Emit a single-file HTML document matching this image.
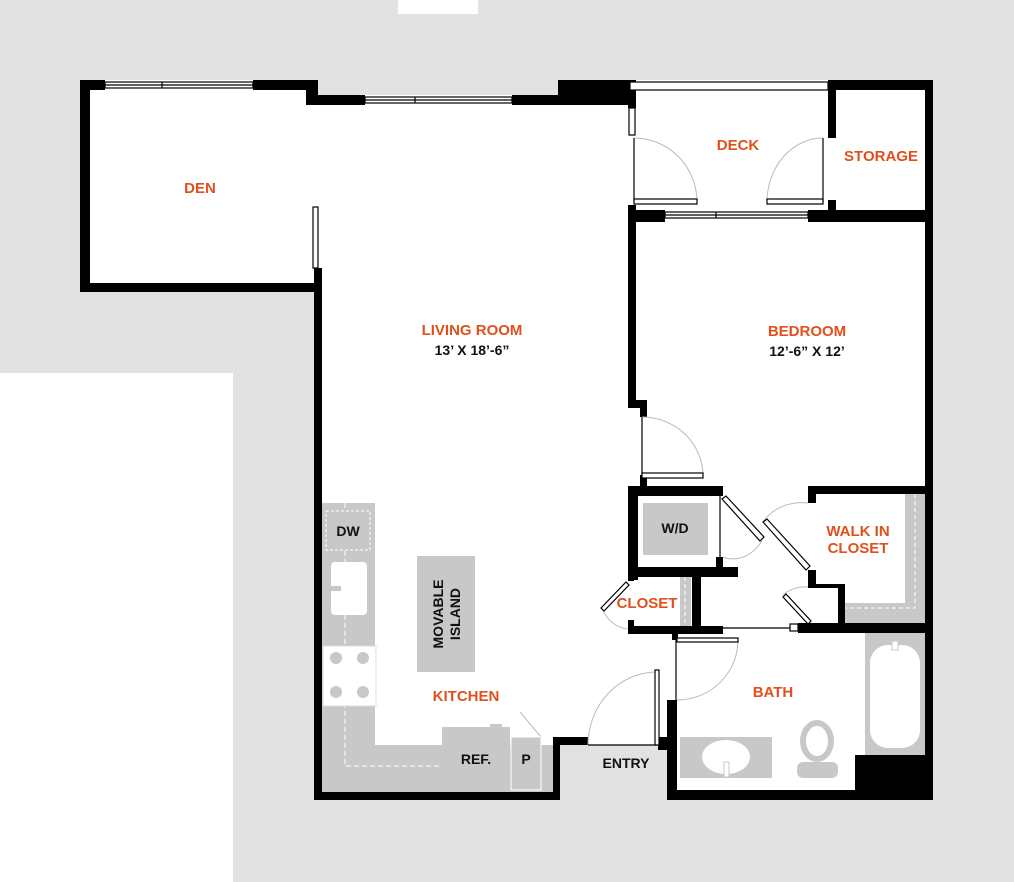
<!DOCTYPE html>
<html><head><style>
html,body{margin:0;padding:0;background:#e2e2e2;}
svg{display:block}
text{font-family:"Liberation Sans",sans-serif;font-weight:bold;text-anchor:middle}
.o{fill:#e0501c;font-size:15px}
.b{fill:#111;font-size:14px}
</style></head><body>
<svg width="1014" height="882" viewBox="0 0 1014 882" xmlns="http://www.w3.org/2000/svg">
<rect width="1014" height="882" fill="#e2e2e2"/>
<rect x="398" y="0" width="80" height="14" fill="#fff"/>
<rect x="0" y="373" width="233" height="509" fill="#fff"/>
<polygon fill="#fff" points="80,80 318,80 318,95 558,95 558,80 933,80 933,800 667,800 667,745 560,745 560,800 314,800 314,292 80,292"/>
<g fill="#000">
<rect x="80" y="80" width="10" height="212"/>
<rect x="80" y="283" width="242" height="9"/>
<rect x="314" y="268" width="8" height="532"/>
<rect x="80" y="80" width="25" height="10"/>
<rect x="253" y="80" width="65" height="10"/>
<rect x="306" y="80" width="12" height="25"/>
<rect x="306" y="95" width="59" height="10"/>
<rect x="512" y="95" width="118" height="10"/>
<rect x="558" y="80" width="78" height="25"/>
<rect x="628" y="80" width="8" height="28"/>
<rect x="828" y="80" width="8" height="58"/>
<rect x="828" y="80" width="105" height="10"/>
<rect x="925" y="80" width="8" height="720"/>
<rect x="628" y="205" width="8" height="203"/>
<rect x="628" y="210" width="37" height="12"/>
<rect x="808" y="210" width="125" height="12"/>
<rect x="828" y="200" width="8" height="15"/>
<rect x="628" y="400" width="19" height="8"/>
<rect x="640" y="400" width="7" height="17"/>
<rect x="640" y="475" width="7" height="15"/>
<rect x="628" y="486" width="95" height="10"/>
<rect x="628" y="486" width="10" height="94"/>
<rect x="716" y="557" width="7" height="12"/>
<rect x="628" y="567" width="110" height="10"/>
<rect x="628" y="567" width="6" height="14"/>
<rect x="628" y="620" width="6" height="14"/>
<rect x="628" y="626" width="95" height="8"/>
<rect x="692" y="567" width="9" height="67"/>
<rect x="672" y="630" width="6" height="10"/>
<rect x="808" y="486" width="8" height="17"/>
<rect x="808" y="486" width="125" height="8"/>
<rect x="808" y="570" width="8" height="17"/>
<rect x="808" y="584" width="36" height="4"/>
<rect x="838" y="584" width="7" height="44"/>
<rect x="798" y="623" width="135" height="10"/>
<rect x="667" y="700" width="10" height="100"/>
<rect x="658" y="737" width="19" height="13"/>
<rect x="667" y="790" width="266" height="10"/>
<rect x="855" y="755" width="78" height="45"/>
<rect x="553" y="737" width="35" height="8"/>
<rect x="553" y="737" width="7" height="63"/>
<rect x="314" y="792" width="246" height="8"/>
</g>
<g fill="#fff" stroke="#000" stroke-width="1.2">
<rect x="105" y="82" width="148" height="6"/><line x1="105" y1="85" x2="253" y2="85"/><line x1="162" y1="82" x2="162" y2="88"/>
<rect x="365" y="97" width="147" height="6"/><line x1="365" y1="100" x2="512" y2="100"/><line x1="415" y1="97" x2="415" y2="103"/>
<rect x="665" y="212" width="143" height="6"/><line x1="665" y1="215" x2="808" y2="215"/><line x1="716" y1="212" x2="716" y2="218"/>
<rect x="630" y="82" width="198" height="8"/>
<rect x="629" y="108" width="6" height="27"/>
<rect x="313" y="207" width="5" height="61"/>
</g>
<g fill="none" stroke="#bbb" stroke-width="1">
<path d="M697,202 A63,64 0 0 0 634,138"/>
<path d="M767,202 A56,64 0 0 1 823,138"/>
<path d="M703,476 A61,59 0 0 0 642,417"/>
<path d="M723,557 A40,58 0 0 0 762,541"/>
<path d="M763,522 A45,40 0 0 1 808,503"/>
<path d="M603,610 A30,30 0 0 0 628,629"/>
<path d="M783,595 A30,25 0 0 1 808,587"/>
<path d="M738,640 A61,60 0 0 1 677,700"/>
<path d="M588,745 A69,73 0 0 1 657,672"/>
<path d="M520,712 L541,737"/>
</g>
<g stroke="#000" stroke-width="1.2" fill="#fff">
<line x1="634" y1="138" x2="634" y2="202"/>
<line x1="823" y1="138" x2="823" y2="202"/>
<rect x="634" y="199" width="63" height="5"/>
<rect x="767" y="199" width="56" height="5"/>
<line x1="642" y1="417" x2="642" y2="476"/>
<rect x="642" y="473" width="61" height="5"/>
<line x1="720" y1="496" x2="720" y2="557"/>
<polygon points="722,499 726,496 764,537 760,541"/>
<polygon points="763,522 767,519 810,566 806,570"/>
<polygon points="601,608 626,582 629,585 604,611"/>
<polygon points="783,597 786,594 811,621 808,624"/>
<line x1="723" y1="628" x2="790" y2="628"/>
<rect x="790" y="624" width="8" height="7"/>
<line x1="676" y1="640" x2="676" y2="700"/>
<rect x="677" y="638" width="61" height="4"/>
<rect x="655" y="670" width="4" height="75"/>
<line x1="588" y1="745" x2="657" y2="745"/>
</g>
<g fill="#c8c8c8">
<rect x="643" y="503" width="65" height="52"/>
<rect x="680" y="577" width="11" height="49"/>
<rect x="905" y="494" width="20" height="129"/>
<rect x="845" y="603" width="80" height="20"/>
<rect x="865" y="633" width="60" height="122"/>
<rect x="680" y="737" width="92" height="41"/>
<rect x="797" y="762" width="41" height="16" rx="6"/>
<rect x="322" y="503" width="53" height="289"/>
<rect x="322" y="745" width="231" height="47"/>
<rect x="417" y="556" width="58" height="116"/>
<rect x="442" y="727" width="68" height="65"/>
<rect x="511" y="737" width="30" height="53"/>
<rect x="490" y="724" width="12" height="4"/>
</g>
<rect x="870" y="645" width="50" height="103" rx="18" fill="#fff"/>
<rect x="892" y="641" width="6" height="9" fill="#fff" stroke="#c8c8c8"/>
<ellipse cx="726" cy="757" rx="24" ry="17" fill="#fff"/>
<rect x="724" y="762" width="5" height="15" fill="#fff" stroke="#c8c8c8"/>
<ellipse cx="817" cy="741" rx="17" ry="21" fill="#c8c8c8"/>
<ellipse cx="817" cy="741" rx="11" ry="15" fill="#fff"/>
<line x1="711" y1="504" x2="711" y2="554" stroke="#fff" stroke-width="1.5"/>
<line x1="685" y1="577" x2="685" y2="626" stroke="#fff" stroke-dasharray="4,3"/>
<path d="M915,494 V608 H845" fill="none" stroke="#fff" stroke-dasharray="4,3"/>
<path d="M345,503 V766 H440" fill="none" stroke="#fff" stroke-dasharray="5,3"/>
<rect x="326" y="511" width="44" height="39" fill="#c8c8c8" stroke="#fff" stroke-dasharray="3,2"/>
<rect x="331" y="562" width="36" height="53" rx="4" fill="#fff"/>
<rect x="326" y="586" width="15" height="5" fill="#c8c8c8"/>
<rect x="323" y="646" width="53" height="60" fill="#fff" stroke="#ddd"/>
<g fill="#c8c8c8"><circle cx="336" cy="658" r="6"/><circle cx="363" cy="658" r="6"/><circle cx="336" cy="692" r="6"/><circle cx="363" cy="692" r="6"/></g>
<rect x="511" y="737" width="30" height="53" fill="none" stroke="#fff"/>
<text class="o" x="200" y="193">DEN</text>
<text class="o" x="472" y="335">LIVING ROOM</text>
<text class="b" x="472" y="355">13’ X 18’-6”</text>
<text class="o" x="807" y="336">BEDROOM</text>
<text class="b" x="807" y="356">12’-6” X 12’</text>
<text class="o" x="738" y="150">DECK</text>
<text class="o" x="881" y="161">STORAGE</text>
<text class="b" x="675" y="533">W/D</text>
<text class="o" x="858" y="536">WALK IN</text>
<text class="o" x="858" y="553">CLOSET</text>
<text class="o" x="647" y="608">CLOSET</text>
<text class="o" x="773" y="697">BATH</text>
<text class="o" x="466" y="701">KITCHEN</text>
<text class="b" x="626" y="768">ENTRY</text>
<text class="b" x="476" y="764">REF.</text>
<text class="b" x="526" y="764">P</text>
<text class="b" x="348" y="536">DW</text>
<text class="b" transform="translate(446,614) rotate(-90)"><tspan x="0" y="-3">MOVABLE</tspan><tspan x="0" y="14">ISLAND</tspan></text>
</svg>
</body></html>
